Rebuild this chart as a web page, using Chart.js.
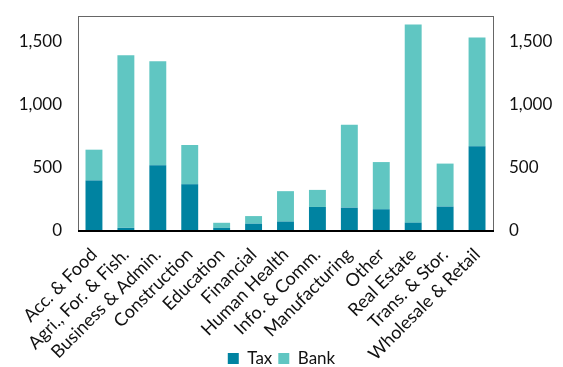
<!DOCTYPE html>
<html>
<head>
<meta charset="utf-8">
<script src="https://cdn.jsdelivr.net/npm/chart.js@4"></script>
<style>
  html, body { margin: 0; padding: 0; background: #fff; }
  #wrap { width: 563px; height: 367px; }
</style>
</head>
<body>
<div id="wrap"><canvas id="sectorChart" width="563" height="367"></canvas></div>
<script>
const sectors = ["Acc. & Food", "Agri., For. & Fish.", "Business & Admin.", "Construction", "Education",
    "Financial", "Human Health", "Info. & Comm.", "Manufacturing", "Other", "Real Estate",
    "Trans. & Stor.", "Wholesale & Retail"];
const taxValues = [400, 25, 520, 370, 25, 58, 75, 190, 185, 172, 66, 193, 670];
const bankValues = [243, 1365, 822, 310, 40, 60, 240, 135, 656, 373, 1566, 340, 860];
const yTicks = [0, 500, 1000, 1500];

const ctx = document.getElementById('sectorChart').getContext('2d');

// frame round the plot area, thicker line along the bottom
const frame = {
    id: 'frame',
    beforeDraw(chart) {
        // let the long rotated labels run down beside the legend
        chart.scales.x._computeLabelArea = () => undefined;
    },
    afterDatasetsDraw(chart) {
        const a = chart.chartArea;
        const c = chart.ctx;
        c.save();
        c.strokeStyle = "#666";
        c.lineWidth = 1;
        c.strokeRect(a.left + 0.5, a.top + 0.5, a.right - a.left, a.bottom - a.top);
        c.strokeStyle = "#000";
        c.lineWidth = 2;
        c.beginPath();
        c.moveTo(a.left, a.bottom);
        c.lineTo(a.right + 1, a.bottom);
        c.stroke();
        c.restore();
    }
};

const tickFmt = value => value.toLocaleString("en-US");
const noPad = axis => {
    axis.paddingTop = 0;
    axis.paddingBottom = 0;
    axis.paddingLeft = 0;
    axis.paddingRight = 0;
};

new Chart(ctx, {
    type: "bar",
    data: {
        labels: sectors,
        datasets: [
            {
                label: "Tax",
                data: taxValues,
                backgroundColor: "rgb(0, 131, 161)",
                barPercentage: 0.53,
                categoryPercentage: 1
            },
            {
                label: "Bank",
                data: bankValues,
                backgroundColor: "rgb(96, 198, 194)",
                barPercentage: 0.53,
                categoryPercentage: 1
            }
        ]
    },
    options: {
        responsive: false,
        animation: false,
        layout: { padding: { top: 16, left: 0, right: 0, bottom: -10 } },
        scales: {
            x: {
                stacked: true,
                grid: { display: false, drawTicks: false },
                border: { display: false },
                afterFit: axis => { axis.height = 113; noPad(axis); },
                ticks: {
                    autoSkip: false,
                    minRotation: 45,
                    maxRotation: 45,
                    padding: 13,
                    color: "#111",
                    font: { family: "Lato", size: 18 }
                }
            },
            y: {
                stacked: true,
                min: 0,
                max: 1700,
                afterBuildTicks: axis => { axis.ticks = yTicks.map(v => ({ value: v })); },
                afterFit: axis => { axis.width = 78; noPad(axis); },
                grid: { display: false, drawTicks: false },
                border: { display: false },
                ticks: {
                    padding: 16,
                    color: "#111",
                    font: { family: "Lato", size: 17 },
                    callback: tickFmt
                }
            },
            y2: {
                position: "right",
                min: 0,
                max: 1700,
                afterBuildTicks: axis => { axis.ticks = yTicks.map(v => ({ value: v })); },
                afterFit: axis => { axis.width = 70; noPad(axis); },
                grid: { display: false, drawTicks: false },
                border: { display: false },
                ticks: {
                    padding: 16,
                    color: "#111",
                    font: { family: "Lato", size: 17 },
                    callback: tickFmt
                }
            }
        },
        plugins: {
            legend: {
                position: "bottom",
                labels: {
                    boxWidth: 11,
                    boxHeight: 11,
                    padding: 6,
                    color: "#111",
                    font: { family: "Lato", size: 17 }
                }
            },
            tooltip: { enabled: false }
        }
    },
    plugins: [frame]
});
</script>
</body>
</html>
